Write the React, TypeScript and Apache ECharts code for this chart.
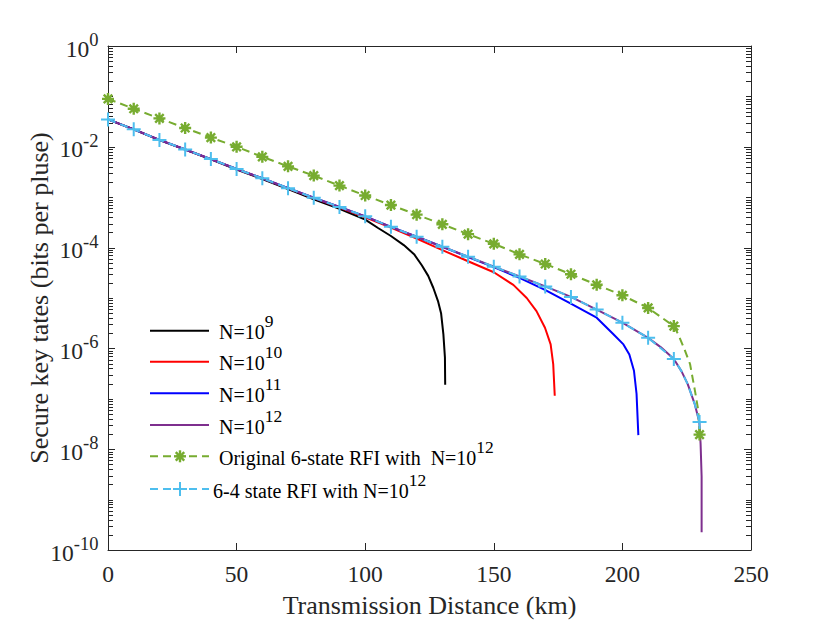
import React, { useEffect, useRef } from 'react';
import * as echarts from 'echarts';

const FONT = '"Liberation Serif", "Times New Roman", Times, serif';
const TXT = '#262626';

// ---------- data ----------
const yLabelExps = [0, -2, -4, -6, -8, -10];

const n9X = [0, 10, 20, 30, 40, 50, 60, 70, 80, 90, 100, 105, 110, 115, 119, 122, 124.5, 126.5, 128.3, 129.5, 130.4, 131, 131.1];
const n9Y = [3.49e-2, 2.21e-2, 1.36e-2, 8.77e-3, 5.62e-3, 3.55e-3, 2.29e-3, 1.45e-3, 9.12e-4, 5.89e-4, 3.6e-4, 2.45e-4, 1.7e-4, 1.12e-4, 7.41e-5, 4.47e-5, 2.75e-5, 1.58e-5, 8.7e-6, 5.0e-6, 1.9e-6, 6.6e-7, 1.9e-7];

const n10X = [0, 10, 20, 30, 40, 50, 60, 70, 80, 90, 100, 110, 120, 130, 140, 150, 157.6, 162.8, 166.6, 169.9, 172.1, 173.1, 173.7];
const n10Y = [3.49e-2, 2.22e-2, 1.37e-2, 8.85e-3, 5.7e-3, 3.62e-3, 2.36e-3, 1.5e-3, 9.6e-4, 6.2e-4, 4.0e-4, 2.5e-4, 1.51e-4, 8.91e-5, 5.37e-5, 3.24e-5, 1.82e-5, 1.0e-5, 5.5e-6, 2.57e-6, 1.2e-6, 4.9e-7, 1.15e-7];

const n11X = [0, 10, 20, 30, 40, 50, 60, 70, 80, 90, 100, 110, 120, 130, 140, 150, 160.2, 169.9, 179.6, 190, 196.5, 200.4, 202.7, 204.5, 205.5, 206.2];
const n11Y = [3.49e-2, 2.22e-2, 1.37e-2, 8.85e-3, 5.7e-3, 3.62e-3, 2.38e-3, 1.51e-3, 9.73e-4, 6.38e-4, 4.17e-4, 2.58e-4, 1.64e-4, 1.04e-4, 6.5e-5, 4.1e-5, 2.48e-5, 1.45e-5, 7.94e-6, 4.07e-6, 1.91e-6, 1.2e-6, 7.6e-7, 3.6e-7, 1.26e-7, 1.9e-8];

const n12X = [0, 10, 20, 30, 40, 50, 60, 70, 80, 90, 100, 110, 120, 130, 140, 150, 160, 170, 180, 190, 200, 210, 215, 220, 223, 225.4, 228.1, 229.9, 230.4, 230.8, 230.8];
const n12Y = [3.49e-2, 2.22e-2, 1.37e-2, 8.85e-3, 5.7e-3, 3.62e-3, 2.38e-3, 1.51e-3, 9.73e-4, 6.38e-4, 4.17e-4, 2.58e-4, 1.64e-4, 1.04e-4, 6.61e-5, 4.17e-5, 2.67e-5, 1.7e-5, 1.05e-5, 5.89e-6, 3.24e-6, 1.62e-6, 1.05e-6, 6.17e-7, 3.5e-7, 1.95e-7, 7.94e-8, 3.47e-8, 1.29e-8, 2.88e-9, 2.26e-10];

const orig6X = [0, 10, 20, 30, 40, 50, 60, 70, 80, 90, 100, 110, 120, 130, 140, 150, 160, 170, 180, 190, 200, 210, 220, 221.7, 224, 226.3, 228.2, 229.5, 230];
const orig6Y = [8.93e-2, 5.68e-2, 3.66e-2, 2.36e-2, 1.524e-2, 1.0e-2, 6.32e-3, 4.09e-3, 2.68e-3, 1.7e-3, 1.08e-3, 6.98e-4, 4.51e-4, 2.9e-4, 1.85e-4, 1.19e-4, 7.35e-5, 4.73e-5, 2.96e-5, 1.83e-5, 1.13e-5, 6.35e-6, 2.77e-6, 1.9e-6, 1.0e-6, 4.9e-7, 1.45e-7, 5.9e-8, 1.95e-8];

const s64X = [0, 10, 20, 30, 40, 50, 60, 70, 80, 90, 100, 110, 120, 130, 140, 150, 160, 170, 180, 190, 200, 210, 220, 223, 225.4, 228.1, 230];
const s64Y = [3.49e-2, 2.22e-2, 1.37e-2, 8.85e-3, 5.7e-3, 3.62e-3, 2.38e-3, 1.51e-3, 9.73e-4, 6.38e-4, 4.17e-4, 2.58e-4, 1.64e-4, 1.04e-4, 6.61e-5, 4.17e-5, 2.67e-5, 1.7e-5, 1.05e-5, 5.89e-6, 3.24e-6, 1.62e-6, 6.17e-7, 3.5e-7, 1.95e-7, 7.94e-8, 3.47e-8];

const seriesNames = ['N=10^9', 'N=10^10', 'N=10^11', 'N=10^12', 'Original 6-state RFI with  N=10^12', '6-4 state RFI with N=10^12'];
const legendBase = ['N=10', 'N=10', 'N=10', 'N=10', 'Original 6-state RFI with\u00a0\u00a0N=10', '6-4 state RFI with N=10'];
const legendSup = ['9', '10', '11', '12', '12', '12'];

const xTitle = 'Transmission Distance (km)';
const yTitle = 'Secure key tates (bits per pluse)';

// ---------- styles ----------
const COLORS = ['#000000', '#FF0000', '#0000FF', '#7E2F8E', '#77AC30', '#4DBEEE'];
const STAR = 'path://M-6,-1.2L6,-1.2L6,1.2L-6,1.2ZM-1.2,-6L1.2,-6L1.2,6L-1.2,6ZM-3.394,-5.091L5.091,3.394L3.394,5.091L-5.091,-3.394ZM-5.091,3.394L3.394,-5.091L5.091,-3.394L-3.394,5.091Z';
const PLUS = 'path://M-1,-7L1,-7L1,-1L7,-1L7,1L1,1L1,7L-1,7L-1,1L-7,1L-7,-1L-1,-1Z';

const legendRowY = [330.7, 361.7, 393.3, 425, 456.3, 489];
const legendTextX = [219, 219, 219, 219, 219, 213];

function zip(xs: number[], ys: number[]) {
  return xs.map((x, i) => [x, ys[i]]);
}

function markerData(xs: number[], ys: number[], sym: string) {
  return xs.map((x, i) => ({ value: [x, ys[i]], symbol: x % 10 === 0 ? sym : 'none' }));
}

export default function App() {
  const ref = useRef<HTMLDivElement>(null);

  useEffect(() => {
    if (!ref.current) return;
    const chart = echarts.init(ref.current, null, { renderer: 'svg' });

    const tickRich = {
      b: { fontFamily: FONT, fontSize: 23.5, lineHeight: 24, fill: TXT, verticalAlign: 'bottom' },
      s: { fontFamily: FONT, fontSize: 18.5, lineHeight: 19, fill: TXT, verticalAlign: 'bottom', padding: [0, 0, 11, 0] },
    };
    const legRich = {
      b: { fontFamily: FONT, fontSize: 20, lineHeight: 20, fill: '#000', verticalAlign: 'bottom' },
      s: { fontFamily: FONT, fontSize: 17.5, lineHeight: 17.5, fill: '#000', verticalAlign: 'bottom', padding: [0, 0, 12, 0] },
    };

    const legendGraphics: any[] = [];
    legendBase.forEach((base, i) => {
      const y = legendRowY[i];
      const dashed = i >= 4;
      legendGraphics.push({
        type: 'line',
        shape: { x1: 150, y1: y, x2: 209, y2: y },
        style: { stroke: COLORS[i], lineWidth: 2, lineDash: dashed ? [8, 5] : null },
        silent: true,
      });
      if (i === 4) {
        [0, 45, 90, 135].forEach((a) => {
          const r = (a * Math.PI) / 180;
          legendGraphics.push({
            type: 'line',
            shape: { x1: 180 - 6 * Math.cos(r), y1: y - 6 * Math.sin(r), x2: 180 + 6 * Math.cos(r), y2: y + 6 * Math.sin(r) },
            style: { stroke: COLORS[i], lineWidth: 2.4 },
            silent: true,
          });
        });
      }
      if (i === 5) {
        legendGraphics.push({ type: 'line', shape: { x1: 173, y1: y, x2: 187, y2: y }, style: { stroke: COLORS[i], lineWidth: 2 }, silent: true });
        legendGraphics.push({ type: 'line', shape: { x1: 180, y1: y - 7, x2: 180, y2: y + 7 }, style: { stroke: COLORS[i], lineWidth: 2 }, silent: true });
      }
      legendGraphics.push({
        type: 'text',
        x: legendTextX[i],
        y: y + 1.5,
        silent: true,
        style: {
          text: `{b|${base}}{s|${legendSup[i]}}`,
          rich: legRich,
          verticalAlign: 'middle',
          align: 'left',
        },
      });
    });

    const yAxisBase = {
      type: 'log',
      logBase: 10,
      min: 1e-10,
      max: 1,
      axisLine: { show: true, onZero: false, lineStyle: { color: TXT, width: 1 } },
      axisTick: { show: false },
      axisLabel: { show: false },
      splitLine: { show: false },
    };

    const option: any = {
      animation: false,
      backgroundColor: '#ffffff',
      grid: { left: 108, right: 79, top: 46, bottom: 69, containLabel: false },
      xAxis: [
        {
          type: 'value',
          min: 0,
          max: 250,
          interval: 50,
          position: 'bottom',
          name: xTitle,
          nameLocation: 'middle',
          nameGap: 42,
          nameTextStyle: { fontFamily: FONT, fontSize: 26, color: TXT },
          axisLine: { show: true, onZero: false, lineStyle: { color: TXT, width: 1 } },
          axisTick: { show: true, inside: true, length: 7, lineStyle: { color: TXT } },
          axisLabel: { fontFamily: FONT, fontSize: 23.5, color: TXT, margin: 12 },
          splitLine: { show: false },
        },
        {
          type: 'value',
          min: 0,
          max: 250,
          interval: 50,
          position: 'top',
          axisLine: { show: true, onZero: false, lineStyle: { color: TXT, width: 1 } },
          axisTick: { show: true, inside: true, length: 7, lineStyle: { color: TXT } },
          axisLabel: { show: false },
          splitLine: { show: false },
        },
      ],
      yAxis: [
        { ...yAxisBase, position: 'left' },
        { ...yAxisBase, position: 'right' },
      ],
      series: [
        {
          name: seriesNames[0], type: 'line', data: zip(n9X, n9Y), symbol: 'none',
          lineStyle: { color: COLORS[0], width: 2 }, itemStyle: { color: COLORS[0] },
        },
        {
          name: seriesNames[1], type: 'line', data: zip(n10X, n10Y), symbol: 'none',
          lineStyle: { color: COLORS[1], width: 2 }, itemStyle: { color: COLORS[1] },
        },
        {
          name: seriesNames[2], type: 'line', data: zip(n11X, n11Y), symbol: 'none',
          lineStyle: { color: COLORS[2], width: 2 }, itemStyle: { color: COLORS[2] },
        },
        {
          name: seriesNames[3], type: 'line', data: zip(n12X, n12Y), symbol: 'none',
          lineStyle: { color: COLORS[3], width: 2 }, itemStyle: { color: COLORS[3] },
        },
        {
          name: seriesNames[4], type: 'line', data: markerData(orig6X, orig6Y, STAR),
          symbol: STAR, symbolSize: 12, showAllSymbol: true,
          lineStyle: { color: COLORS[4], width: 2, type: [8, 5] },
          itemStyle: { color: COLORS[4] },
        },
        {
          name: seriesNames[5], type: 'line', data: markerData(s64X, s64Y, PLUS),
          symbol: PLUS, symbolSize: 14, showAllSymbol: true,
          lineStyle: { color: COLORS[5], width: 2, type: [8, 5] },
          itemStyle: { color: COLORS[5] },
        },
      ],
    };

    chart.setOption(option);

    // y-axis ticks and labels, placed through the log axis scale
    const extra: any[] = [];
    const xL = chart.convertToPixel({ xAxisIndex: 0 }, 0) as number;
    const xR = chart.convertToPixel({ xAxisIndex: 0 }, 250) as number;
    const yTop = chart.convertToPixel({ yAxisIndex: 0 }, 1) as number;
    const yBot = chart.convertToPixel({ yAxisIndex: 0 }, 1e-10) as number;
    for (let k = -10; k <= 0; k++) {
      for (let m = 1; m <= 9; m++) {
        if (k === 0 && m > 1) break;
        const v = m * Math.pow(10, k);
        const major = m === 1 && k % 2 === 0;
        const len = major ? 7 : 5;
        const py = Math.round(chart.convertToPixel({ yAxisIndex: 0 }, v) as number) + 0.5;
        extra.push({ type: 'line', silent: true, shape: { x1: xL, y1: py, x2: xL + len, y2: py }, style: { stroke: TXT, lineWidth: 1 } });
        extra.push({ type: 'line', silent: true, shape: { x1: xR - len, y1: py, x2: xR, y2: py }, style: { stroke: TXT, lineWidth: 1 } });
      }
    }
    yLabelExps.forEach((e) => {
      const py = chart.convertToPixel({ yAxisIndex: 0 }, Math.pow(10, e)) as number;
      extra.push({
        type: 'text',
        silent: true,
        x: xL - 9.5,
        y: py + 2.5,
        style: { text: `{b|10}{s|${e}}`, rich: tickRich, align: 'right', verticalAlign: 'middle' },
      });
    });
    extra.push({
      type: 'text',
      silent: true,
      x: 39,
      y: (yTop + yBot) / 2,
      rotation: Math.PI / 2,
      style: { text: yTitle, fontFamily: FONT, fontSize: 26, fill: TXT, align: 'center', verticalAlign: 'middle' },
    });

    chart.setOption({ graphic: [...extra, ...legendGraphics] });
    return () => chart.dispose();
  }, []);

  return (
    <div
      ref={ref}
      style={{ position: 'absolute', left: 0, top: 0, width: 830, height: 623, background: '#fff' }}
    />
  );
}
